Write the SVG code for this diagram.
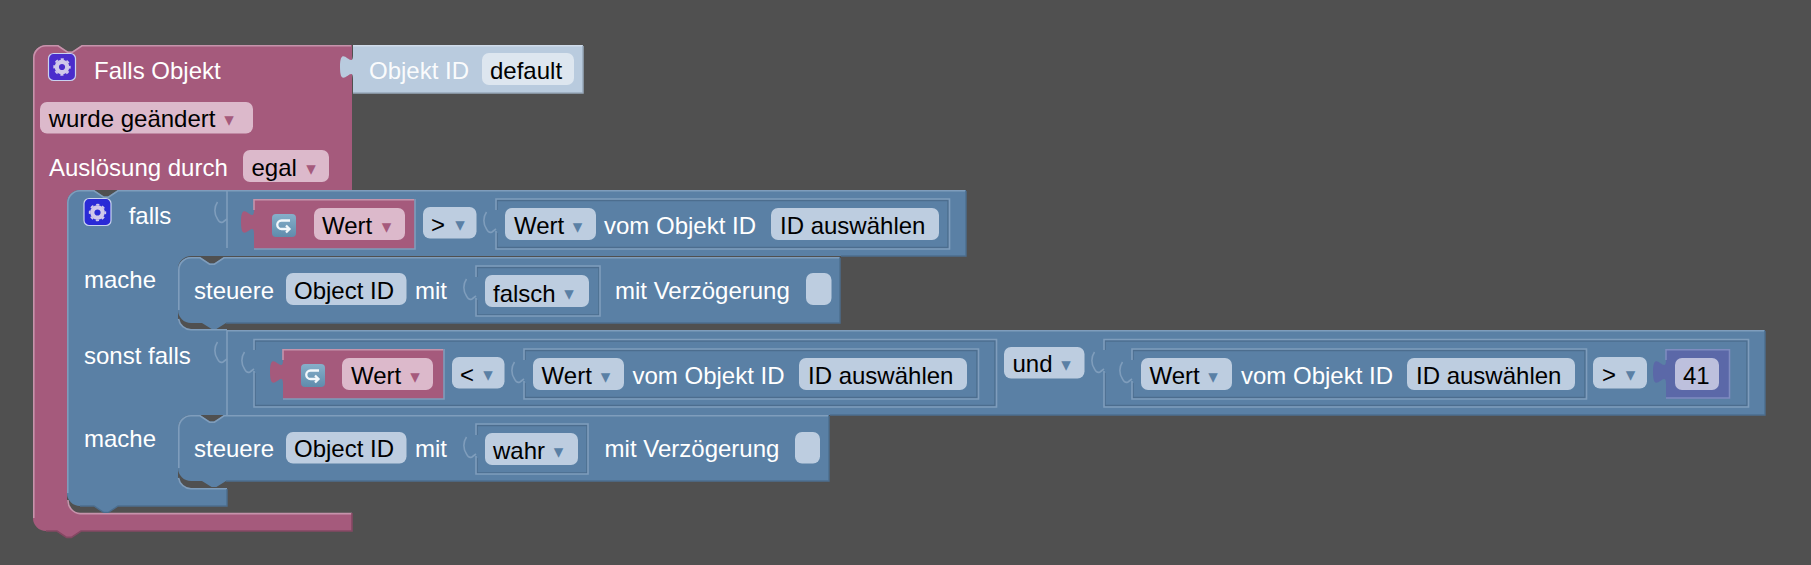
<svg xmlns="http://www.w3.org/2000/svg" xmlns:xlink="http://www.w3.org/1999/xlink" width="1811" height="565" viewBox="0 0 1811 565">
<style>
text{font-family:"Liberation Sans",Arial,sans-serif;font-size:24px}
.l{fill:#fff}.k{fill:#000}
.pu{fill:#a55a7c}.bl{fill:#5a80a5}
.hb{fill:none;stroke:#7f9dbc;stroke-width:1.6}
.db{fill:none;stroke:#4c6d8e;stroke-width:1.4}
.hp{fill:none;stroke:#c693ab;stroke-width:1.6}
.dp{fill:none;stroke:#844863;stroke-width:1.6}
.fb{fill:#bdcde0}.fp{fill:#dcb9cb}
.t{font-family:"DejaVu Sans",sans-serif;font-size:19px;text-anchor:middle}
.tb{fill:#5a80a5}.tp{fill:#a55a7c}
.ico{stroke:#c9d2f0;stroke-width:1.2}
</style>
<defs>
<linearGradient id="lg" x1="0" y1="0" x2="0" y2="1"><stop offset="0" stop-color="#86afca"/><stop offset="1" stop-color="#5f8cac"/></linearGradient>
<path id="slot" d="M0,-4l-4,3c-2,1 -4,0 -5.500,-3c-3.500,-5 -3.500,-12 0,-17"/>
<g id="gear"><circle r="5.200" fill="none" stroke="#d0c8ea" stroke-width="4.200"/><circle r="7.800" fill="none" stroke="#d0c8ea" stroke-width="1.800" stroke-dasharray="3.200 2.930" stroke-dashoffset="1.600"/></g>
<g id="loop"><rect width="24" height="23" rx="4" fill="url(#lg)"/><path d="M18,6.500H9.500a4,4 0 0 0 0,8.500h8m-3.500,-3.500l3.500,3.500l-3.500,3.500" fill="none" stroke="#f2f7fb" stroke-width="2.300"/></g>
</defs>
<rect width="1811" height="565" fill="#505050"/>

<g id="falls-objekt">
<path class="pu" d="M33,58A13,13 0 0 1 46,45H58l9.600,6.400 4.800,0 9.600,-6.400H352V190H80A13,13 0 0 0 67,203V500A13,13 0 0 0 80,513H352V531H81l-9.600,6.400 -4.800,0 -9.600,-6.400H46A13,13 0 0 1 33,518Z"/>
<path class="hp" d="M33.800,518V58A12.200,12.200 0 0 1 46,45.800H58l9.600,6.400 4.800,0 9.600,-6.400H351"/>
<path class="hp" d="M68,500A13,13 0 0 0 80,513.600H352"/>
<path class="dp" d="M352,513V531H81l-9.600,6.400 -4.800,0 -9.600,-6.400H46"/>
<rect class="ico" x="48.500" y="53.500" width="27" height="27" rx="5" fill="#4a2ccc"/><use xlink:href="#gear" href="#gear" x="62" y="67"/>
<text class="l" x="94" y="79">Falls Objekt</text>
<rect class="fp" x="40" y="102" width="213" height="31.500" rx="7"/>
<text class="k" x="48.700" y="127">wurde geändert</text><text class="t tp" x="229" y="126">▾</text>
<text class="l" x="49" y="176">Auslösung durch</text>
<rect class="fp" x="243" y="150" width="86" height="32" rx="7"/>
<text class="k" x="251.500" y="176">egal</text><text class="t tp" x="311" y="175">▾</text>
</g>

<g id="objekt-id">
<path fill="#b9cbde" d="M353,45H583V93H353V79c0,-16 -13,13 -13,-12s13,4 13,-12Z"/>
<path fill="none" stroke="#d0dcea" stroke-width="1.500" d="M353,45.800H582"/>
<path fill="none" stroke="#98a9bb" stroke-width="1.500" d="M583,46V93H353"/>
<text class="l" x="369" y="79" fill-opacity=".95">Objekt ID</text>
<rect x="482" y="53" width="92" height="32" rx="7" fill="#dde6ef"/>
<text class="k" x="490" y="79">default</text>
</g>

<g id="falls-block">
<path class="bl" d="M67,203A13,13 0 0 1 80,190H94l9.600,6.400 4.800,0 9.600,-6.400H966V256H191A13,13 0 0 0 178,269V317A13,13 0 0 0 191,330H1765V415H191A13,13 0 0 0 178,428V476A13,13 0 0 0 191,489H227V506H118l-9.600,6.400 -4.800,0 -9.600,-6.400H80A13,13 0 0 1 67,493Z"/>
<path class="hb" d="M67.800,493V203A12.200,12.200 0 0 1 80,190.800H94l9.600,6.400 4.800,0 9.600,-6.400H965"/>
<path class="hb" d="M178.500,319A13,13 0 0 0 191,329.800H227M227,330.800H1764M178.500,478A13,13 0 0 0 191,488.800H227M227,190V248M227,330V415"/>
<path class="db" d="M966,191V256H841M1765,331V415H830M227,489V506H118l-9.600,6.400 -4.800,0 -9.600,-6.400H80"/>
<use xlink:href="#slot" href="#slot" class="hb" x="227" y="223"/>
<use xlink:href="#slot" href="#slot" class="hb" x="227" y="363"/>
<rect class="ico" x="84" y="198.500" width="27" height="27" rx="5" fill="#2a2ad6"/><use xlink:href="#gear" href="#gear" x="97.500" y="212.500"/>
<text class="l" x="128.700" y="224">falls</text>
<text class="l" x="84" y="288">mache</text>
<text class="l" x="84" y="364">sonst falls</text>
<text class="l" x="84" y="447">mache</text>
</g>

<g id="bedingung-1">
<path class="pu" d="M254,199H415V249H254V234c0,-16 -13,13 -13,-12s13,4 13,-12Z"/>
<path class="hp" d="M254,210V199.800H414"/>
<path class="hb" d="M415,199V249H254"/>
<use xlink:href="#loop" href="#loop" x="272" y="214"/>
<rect class="fp" x="314" y="208" width="91" height="32" rx="7"/>
<text class="k" x="322" y="234">Wert</text><text class="t tp" x="386.600" y="233">▾</text>
<rect class="fb" x="423" y="207" width="53.500" height="31.500" rx="7"/>
<text class="k" x="431" y="233">&gt;</text><text class="t tb" x="460" y="231">▾</text>
<use xlink:href="#slot" href="#slot" class="hb" x="496" y="233"/>
<path class="db" d="M497,210V200.500H948V247.500H497V233"/>
<path class="hb" d="M496,210V199H949.500V249H496V231"/>
<rect class="fb" x="505" y="208" width="91" height="32" rx="7"/>
<text class="k" x="514" y="234">Wert</text><text class="t tb" x="577.600" y="233">▾</text>
<text class="l" x="604" y="234">vom Objekt ID</text>
<rect class="fb" x="771" y="208" width="168" height="32" rx="7"/>
<text class="k" x="780" y="234">ID auswählen</text>
</g>

<g id="steuere-1">
<path class="bl" d="M178,270A13,13 0 0 1 191,257H200l9.600,6.400 4.800,0 9.600,-6.400H840V323H226l-9.600,6 -4.800,0 -9.600,-6H191A13,13 0 0 1 178,310Z"/>
<path class="hb" d="M178.800,310V270A12.200,12.200 0 0 1 191,257.800H200l9.600,6.400 4.800,0 9.600,-6.400H839"/>
<path class="db" d="M840,258V323H226"/>
<text class="l" x="194" y="299">steuere</text>
<rect class="fb" x="286" y="273" width="120.500" height="32" rx="7"/>
<text class="k" x="294" y="299">Object ID</text>
<text class="l" x="415" y="299">mit</text>
<use xlink:href="#slot" href="#slot" class="hb" x="476" y="300"/>
<path class="db" d="M477,277V267.500H599V315H477V300"/>
<path class="hb" d="M476,277V266H600V316H476V298"/>
<rect class="fb" x="485" y="275" width="104" height="32" rx="7"/>
<text class="k" x="493" y="301.500">falsch</text><text class="t tb" x="569" y="300">▾</text>
<text class="l" x="615" y="299">mit Verzögerung</text>
<rect class="fb" x="806" y="273" width="25.500" height="32" rx="7"/>
</g>

<g id="bedingung-2">
<use xlink:href="#slot" href="#slot" class="hb" x="254" y="373"/>
<path class="db" d="M255,350V341H995V405.500H255V373"/>
<path class="hb" d="M254,350V339.500H996.500V407H254V371"/>
<use xlink:href="#slot" href="#slot" class="hb" x="1104" y="373"/>
<path class="db" d="M1105,350V341H1747V405.500H1105V373"/>
<path class="hb" d="M1104,350V339.500H1748.500V407H1104V371"/>
<path class="pu" d="M283,349H444V399H283V384c0,-16 -13,13 -13,-12s13,4 13,-12Z"/>
<path class="hp" d="M283,360V349.800H443"/>
<path class="hb" d="M444,349V399H283"/>
<use xlink:href="#loop" href="#loop" x="301" y="364"/>
<rect class="fp" x="342" y="358" width="91" height="32" rx="7"/>
<text class="k" x="351" y="384">Wert</text><text class="t tp" x="415" y="383">▾</text>
<rect class="fb" x="452" y="357" width="52.500" height="31.500" rx="7"/>
<text class="k" x="460" y="383">&lt;</text><text class="t tb" x="488" y="381">▾</text>
<use xlink:href="#slot" href="#slot" class="hb" x="524" y="383"/>
<path class="db" d="M525,360V350.500H977V397.500H525V383"/>
<path class="hb" d="M524,360V349H978.500V399H524V381"/>
<rect class="fb" x="533" y="358" width="91" height="32" rx="7"/>
<text class="k" x="541.600" y="384">Wert</text><text class="t tb" x="605.500" y="383">▾</text>
<text class="l" x="632.500" y="384">vom Objekt ID</text>
<rect class="fb" x="799" y="358" width="168" height="32" rx="7"/>
<text class="k" x="808" y="384">ID auswählen</text>
<rect class="fb" x="1004" y="347" width="80.500" height="31.500" rx="7"/>
<text class="k" x="1012.500" y="372">und</text><text class="t tb" x="1066" y="371">▾</text>
<use xlink:href="#slot" href="#slot" class="hb" x="1132" y="383"/>
<path class="db" d="M1133,360V350.500H1585V397.500H1133V383"/>
<path class="hb" d="M1132,360V349H1586.500V399H1132V381"/>
<rect class="fb" x="1141" y="358" width="91" height="32" rx="7"/>
<text class="k" x="1149.500" y="384">Wert</text><text class="t tb" x="1213" y="383">▾</text>
<text class="l" x="1241" y="384">vom Objekt ID</text>
<rect class="fb" x="1407" y="358" width="168" height="32" rx="7"/>
<text class="k" x="1416" y="384">ID auswählen</text>
<rect class="fb" x="1593" y="357" width="54" height="31.500" rx="7"/>
<text class="k" x="1602" y="383">&gt;</text><text class="t tb" x="1630.500" y="381">▾</text>
<path fill="#5b68a8" d="M1666,349H1730V398.500H1666V384c0,-16 -13,13 -13,-12s13,4 13,-12Z"/>
<path fill="none" stroke="#7f8cc0" stroke-width="1.500" d="M1666,360V349.800H1729.500V398H1666"/>
<rect x="1675" y="358" width="44" height="32" rx="7" fill="#bdc0dd"/>
<text class="k" x="1683" y="384">41</text>
</g>

<g id="steuere-2">
<path class="bl" d="M178,428A13,13 0 0 1 191,415H200l9.600,6.400 4.800,0 9.600,-6.400H829V481H226l-9.600,6 -4.800,0 -9.600,-6H191A13,13 0 0 1 178,468Z"/>
<path class="hb" d="M178.800,468V428A12.200,12.200 0 0 1 191,415.800H200l9.600,6.400 4.800,0 9.600,-6.400H828"/>
<path class="db" d="M829,416V481H226"/>
<text class="l" x="194" y="457">steuere</text>
<rect class="fb" x="286" y="432" width="120.500" height="31.500" rx="7"/>
<text class="k" x="294" y="457">Object ID</text>
<text class="l" x="415" y="457">mit</text>
<use xlink:href="#slot" href="#slot" class="hb" x="476" y="458"/>
<path class="db" d="M477,435V425.500H587V473H477V458"/>
<path class="hb" d="M476,435V424H588V474H476V456"/>
<rect class="fb" x="485" y="433" width="93" height="32" rx="7"/>
<text class="k" x="493" y="459">wahr</text><text class="t tb" x="558.500" y="458">▾</text>
<text class="l" x="604.600" y="457">mit Verzögerung</text>
<rect class="fb" x="795" y="432" width="25" height="31.500" rx="7"/>
</g>
</svg>
